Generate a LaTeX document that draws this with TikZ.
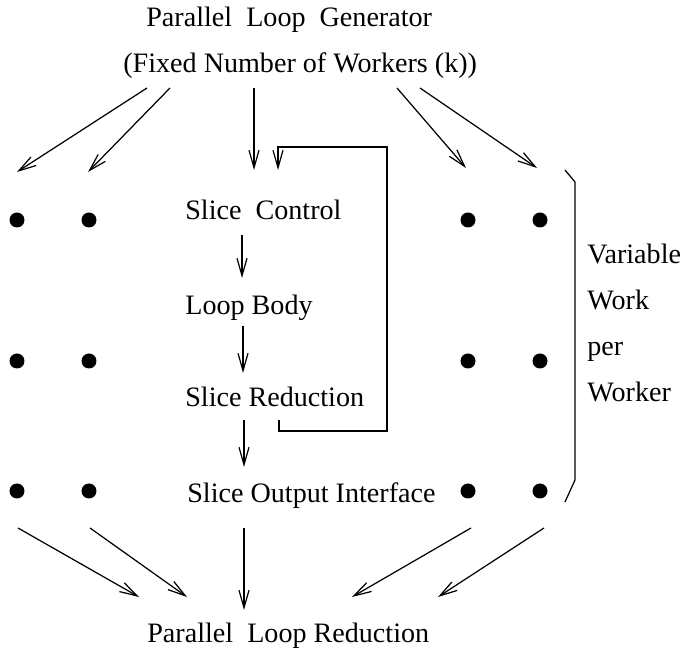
\documentclass[tikz,border=0pt]{standalone}
\usepackage{fontspec}
\setmainfont{Liberation Serif}
\usetikzlibrary{arrows.meta, positioning, calc}

\begin{document}
\begin{tikzpicture}[
    x=0.02cm, y=-0.02cm,
    txt/.style={inner sep=0pt, anchor=base west, font=\fontsize{16}{19}\selectfont},
    flow/.style={-{Straight Barb[length=3.5mm, width=2mm]}, line width=0.7pt},
    worker/.style={circle, fill=black, inner sep=0pt, minimum size=3mm}
]
\useasboundingbox (0,0) rectangle (687,651);

% generator and reduction
\node[txt] (gen) at (146,27) {Parallel~ Loop~ Generator};
\node[txt] (fixed) at (123,73) {(Fixed Number of Workers (k))};
\node[txt] (red) at (147,643) {Parallel~ Loop Reduction};

% one worker slice
\node[txt] (sctl) at (185,220) {Slice~ Control};
\node[txt] (body) at (185,315) {Loop Body};
\node[txt] (sred) at (185,407) {Slice Reduction};
\node[txt] (sout) at (187,503) {Slice Output Interface};

% the other workers
\foreach \row/\y in {1/220, 2/361, 3/491}
    \foreach \col/\x in {1/17, 2/89, 3/468, 4/540}
        \node[worker] (w\row\col) at (\x,\y) {};

% fan out from the generator
\foreach \i/\sx/\ex/\ey in {1/147/17/172, 2/170/88/172, 3/254/254/170, 4/397/466/168, 5/420/537/168} {
    \coordinate (out\i) at (\sx,88);
    \coordinate (in\i) at (\ex,\ey);
    \draw[flow] (out\i) -- (in\i);
}

% steps inside the slice
\foreach \i/\x/\sy/\ey in {1/242/235/278, 2/243/326/373, 3/244/420/467} {
    \coordinate (top\i) at (\x,\sy);
    \coordinate (bot\i) at (\x,\ey);
    \draw[flow] (top\i) -- (bot\i);
}

% loop back to slice control
\coordinate (fbin) at (279,420);
\coordinate (fbcorner) at (387,431);
\coordinate (fbtop) at (278,147);
\coordinate (fbout) at (278,170);
\draw[flow] (fbin) |- (fbcorner) |- (fbtop) -- (fbout);

% fan in to the reduction
\foreach \i/\sx/\ex/\ey in {1/18/139/597, 2/90/187/597, 3/244/244/610, 4/471/352/597, 5/544/438/597} {
    \coordinate (src\i) at (\sx,528);
    \coordinate (dst\i) at (\ex,\ey);
    \draw[flow] (src\i) -- (dst\i);
}

% brace and its note
\draw[line width=0.7pt] (565,170) -- (575,182) -- (575,480) -- (565,502);
\node[txt] (var) at (587,264) {Variable};
\node[txt] (work) at (587,310) {Work};
\node[txt] (per) at (587,356) {per};
\node[txt] (wkr) at (587,402) {Worker};

\end{tikzpicture}
\end{document}
